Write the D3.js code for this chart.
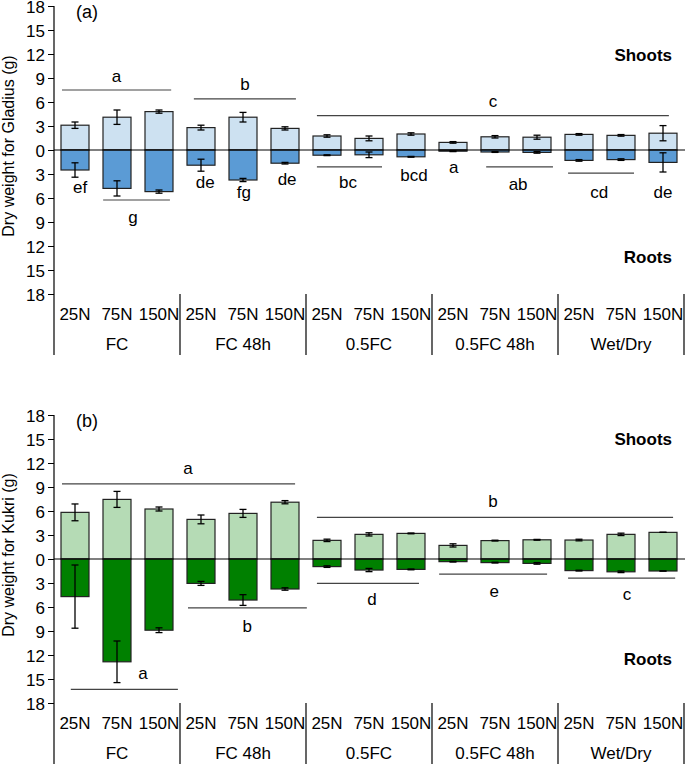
<!DOCTYPE html>
<html><head><meta charset="utf-8">
<script src="https://cdn.jsdelivr.net/npm/d3@7"></script>
<style>
body{margin:0;background:#fff}
svg{display:block}
text{font-family:"Liberation Sans",Arial,Helvetica,sans-serif;fill:#000}
</style>
</head><body>
<svg id="chart" width="685" height="764"></svg>
<script>
// ---------- data ----------
const nitrogen = ["25N", "75N", "150N"];
const regimes = ["FC", "FC 48h", "0.5FC", "0.5FC 48h", "Wet/Dry"];
const yTickValues = [-18, -15, -12, -9, -6, -3, 0, 3, 6, 9, 12, 15, 18];

const gladiusShoots    = [3.1, 4.1, 4.8, 2.8, 4.1, 2.7, 1.75, 1.45, 2.0, 0.95, 1.65, 1.6, 1.95, 1.83, 2.1];
const gladiusShootsErr = [0.4, 0.9, 0.2, 0.3, 0.6, 0.2, 0.15, 0.3, 0.15, 0.1, 0.15, 0.25, 0.1, 0.1, 0.95];
const gladiusRoots     = [2.5, 4.8, 5.2, 1.9, 3.75, 1.65, 0.65, 0.6, 0.85, 0.15, 0.25, 0.3, 1.3, 1.2, 1.55];
const gladiusRootsErr  = [0.9, 0.95, 0.2, 0.75, 0.2, 0.1, 0.05, 0.35, 0.05, 0.05, 0.05, 0.1, 0.1, 0.1, 1.2];

const kukriShoots    = [5.83, 7.45, 6.25, 4.95, 5.7, 7.1, 2.33, 3.08, 3.2, 1.7, 2.3, 2.4, 2.37, 3.08, 3.33];
const kukriShootsErr = [1.05, 1.0, 0.25, 0.55, 0.5, 0.2, 0.15, 0.2, 0.05, 0.2, 0.05, 0.05, 0.1, 0.15, 0];
const kukriRoots     = [4.7, 12.85, 8.9, 3.05, 5.13, 3.75, 0.95, 1.38, 1.3, 0.33, 0.45, 0.55, 1.45, 1.6, 1.5];
const kukriRootsErr  = [3.95, 2.6, 0.3, 0.25, 0.67, 0.15, 0.1, 0.2, 0.05, 0.05, 0.05, 0.1, 0.05, 0.1, 0];

// significance letters: [label, fromSlot, toSlot, lineValue, labelSlot, labelValue]
const gladiusLetters = [
  ["a", 0.19, 2.79, 7.5, null, 8.5],
  ["b", 3.33, 5.76, 6.4, null, 7.5],
  ["c", 6.26, 14.64, 4.3, null, 5.4],
  ["ef", null, null, null, 0.62, -5.375],
  ["g", 1.17, 2.76, -6.25, 1.88, -9.125],
  ["de", null, null, null, 3.6, -4.75],
  ["fg", null, null, null, 4.52, -6.0],
  ["de", null, null, null, 5.55, -4.375],
  ["bc", 6.26, 7.81, -2.1, 7.0, -4.75],
  ["bcd", null, null, null, 8.57, -3.875],
  ["a", null, null, null, 9.52, -2.875],
  ["ab", 10.29, 11.88, -2.1, 11.05, -5.0],
  ["cd", 12.24, 13.81, -2.9, 12.98, -6.0],
  ["de", null, null, null, 14.5, -6.0]
];
const kukriLetters = [
  ["a", 0.19, 5.74, 9.4, 3.19, 10.6],
  ["b", 6.26, 14.74, 5.2, 10.45, 6.5],
  ["a", 0.40, 2.95, -16.3, 2.12, -15.0],
  ["b", 3.19, 6.02, -6.1, 4.6, -9.1],
  ["d", 6.26, 8.69, -3.04, 7.57, -5.75],
  ["e", 9.17, 11.74, -1.9, 10.48, -4.75],
  ["c", 12.24, 14.79, -2.4, 13.64, -5.1]
];

// ---------- drawing ----------
const svg = d3.select("#chart");
const keys = [];
regimes.forEach(r => nitrogen.forEach(n => keys.push(r + "|" + n)));

function drawPanel(cfg) {
  const left = 54, right = 684;
  const g = svg.append("g");
  const x = d3.scaleBand().domain(keys).range([left, right]).paddingInner(1/3).paddingOuter(1/6);
  const slot = d3.scaleLinear().domain([0, keys.length]).range([left, right]);
  const gx = d3.scaleBand().domain(regimes).range([left, right]);
  const y = d3.scaleLinear().domain([-18, 18]).range([cfg.bottom, cfg.top]);

  const rows = keys.map((k, i) => ({
    k, s: cfg.shoots[i], se: cfg.shootsErr[i], r: cfg.roots[i], re: cfg.rootsErr[i]
  }));

  // shoots bars
  g.selectAll(".sb").data(rows).join("rect")
    .attr("x", d => x(d.k)).attr("width", x.bandwidth())
    .attr("y", d => y(d.s)).attr("height", d => y(0) - y(d.s))
    .attr("fill", cfg.shootColor).attr("stroke", "#222").attr("stroke-width", 1.2);
  // roots bars
  g.selectAll(".rb").data(rows).join("rect")
    .attr("x", d => x(d.k)).attr("width", x.bandwidth())
    .attr("y", y(0)).attr("height", d => y(-d.r) - y(0))
    .attr("fill", cfg.rootColor).attr("stroke", "#222").attr("stroke-width", 1.2);

  // error bars
  const cap = 3.5;
  function errBars(vals) {
    const eb = g.append("g").attr("stroke", "#000").attr("stroke-width", 1.3);
    vals.forEach(v => {
      const cx = v.cx;
      eb.append("line").attr("x1", cx).attr("x2", cx).attr("y1", y(v.lo)).attr("y2", y(v.hi));
      eb.append("line").attr("x1", cx - cap).attr("x2", cx + cap).attr("y1", y(v.lo)).attr("y2", y(v.lo));
      eb.append("line").attr("x1", cx - cap).attr("x2", cx + cap).attr("y1", y(v.hi)).attr("y2", y(v.hi));
    });
  }
  errBars(rows.map(d => ({cx: x(d.k) + x.bandwidth()/2, lo: d.s - d.se, hi: d.s + d.se})));
  errBars(rows.map(d => ({cx: x(d.k) + x.bandwidth()/2, lo: -d.r - d.re, hi: -d.r + d.re})));

  // zero line
  g.append("line").attr("x1", left).attr("x2", 685).attr("y1", y(0)).attr("y2", y(0))
    .attr("stroke", "#000").attr("stroke-width", 1.2);

  // y axis
  const ya = g.append("g").attr("transform", `translate(${left},0)`)
    .call(d3.axisLeft(y).tickValues(yTickValues).tickFormat(d => Math.abs(d)).tickSize(6).tickPadding(3).tickSizeOuter(0));
  ya.select(".domain").remove();
  ya.selectAll("text").style("font-size", "17px").attr("font-family", null).attr("dy", "0.4em");
  ya.selectAll(".tick line").attr("stroke", "#000").attr("stroke-width", 1);
  g.append("line").attr("x1", left).attr("x2", left).attr("y1", cfg.top).attr("y2", cfg.bottom + 61)
    .attr("stroke", "#000").attr("stroke-width", 1.2);

  // x axis (nitrogen labels)
  const xa = g.append("g").attr("transform", `translate(0,${cfg.bottom})`)
    .call(d3.axisBottom(x).tickFormat(k => k.split("|")[1]).tickSize(0).tickPadding(14));
  xa.select(".domain").remove();
  xa.selectAll("text").style("font-size", "17px").attr("font-family", null);

  // group labels
  g.selectAll(".gl").data(regimes).join("text")
    .attr("x", d => gx(d) + gx.bandwidth()/2).attr("y", cfg.bottom + 56)
    .attr("text-anchor", "middle").style("font-size", "17px").text(d => d);

  // group separators
  g.selectAll(".sep").data(regimes).join("line")
    .attr("x1", d => gx(d) + gx.bandwidth()).attr("x2", d => gx(d) + gx.bandwidth())
    .attr("y1", cfg.bottom).attr("y2", cfg.bottom + 61)
    .attr("stroke", "#000").attr("stroke-width", 1.2);

  // letters
  cfg.letters.forEach(L => {
    const [lab, a, b, lv, ls, tv] = L;
    if (a !== null) {
      g.append("line").attr("x1", slot(a)).attr("x2", slot(b)).attr("y1", y(lv)).attr("y2", y(lv))
        .attr("stroke", "#444").attr("stroke-width", 1.2);
    }
    const tx = ls !== null ? slot(ls) : slot((a + b) / 2);
    g.append("text").attr("x", tx).attr("y", y(tv)).attr("text-anchor", "middle")
      .style("font-size", "17px").text(lab);
  });

  // panel label
  g.append("text").attr("x", 76).attr("y", cfg.top + 12).style("font-size", "18px").text(cfg.tag);
  // Shoots / Roots
  g.append("text").attr("x", 672).attr("y", y(cfg.shootsLabelV)).attr("text-anchor", "end")
    .style("font-size", "17px").style("font-weight", "bold").text("Shoots");
  g.append("text").attr("x", 672).attr("y", y(cfg.rootsLabelV)).attr("text-anchor", "end")
    .style("font-size", "17px").style("font-weight", "bold").text("Roots");

  // y title
  g.append("text").attr("transform", `translate(14,${y(0) - 4}) rotate(-90)`)
    .attr("text-anchor", "middle").style("font-size", "16px").text(cfg.title);
}

drawPanel({
  top: 6, bottom: 294, tag: "(a)", title: "Dry weight for Gladius (g)",
  shoots: gladiusShoots, shootsErr: gladiusShootsErr, roots: gladiusRoots, rootsErr: gladiusRootsErr,
  shootColor: "#cde1f1", rootColor: "#5b9bd5", letters: gladiusLetters,
  shootsLabelV: 11.1, rootsLabelV: -14.1
});
drawPanel({
  top: 415, bottom: 703, tag: "(b)", title: "Dry weight for Kukri (g)",
  shoots: kukriShoots, shootsErr: kukriShootsErr, roots: kukriRoots, rootsErr: kukriRootsErr,
  shootColor: "#b5dbb5", rootColor: "#008000", letters: kukriLetters,
  shootsLabelV: 14.25, rootsLabelV: -13.25
});
</script>
</body></html>
